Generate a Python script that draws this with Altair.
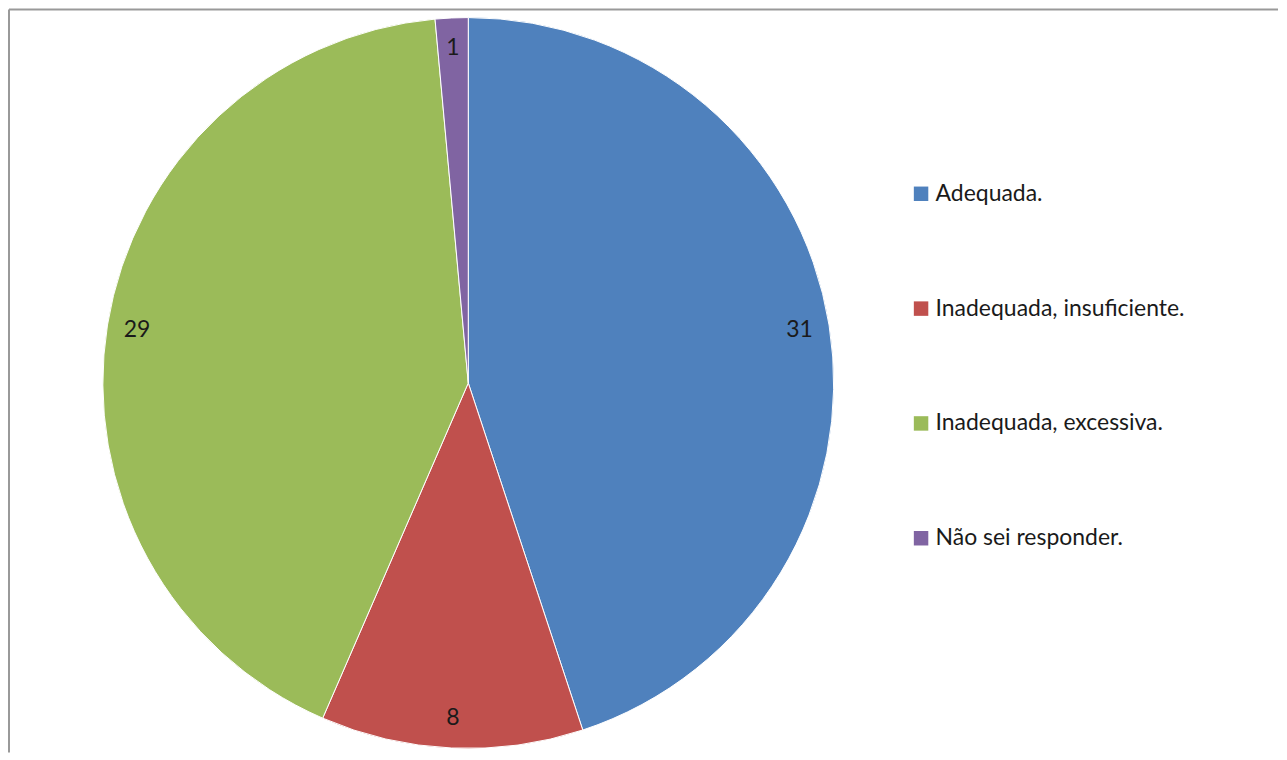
import altair as alt
import pandas as pd

categorias = ["Adequada.", "Inadequada, insuficiente.", "Inadequada, excessiva.", "Não sei responder."]
valores = [31, 8, 29, 1]
cores = ["#4F81BD", "#C0504D", "#9BBB59", "#8064A2"]
ordem = [0, 1, 2, 3]

df = pd.DataFrame({"categoria": categorias, "valor": valores, "ordem": ordem})
frame_df = pd.DataFrame({"k": [0]})

W, H = 1271, 744
cx, cy = 460, 374

base = alt.Chart(df).encode(
    theta=alt.Theta("valor:Q", stack=True),
    order=alt.Order("ordem:Q"),
)

pie = base.mark_arc(outerRadius=366, stroke="white", strokeWidth=1).encode(
    x=alt.value(cx),
    y=alt.value(cy),
    color=alt.Color(
        "categoria:N",
        scale=alt.Scale(domain=categorias, range=cores),
        sort=categorias,
        legend=alt.Legend(
            title=None,
            orient="none",
            legendX=902,
            legendY=173,
            symbolType="square",
            symbolSize=210,
            symbolStrokeWidth=0,
            labelFont="Lato",
            labelFontSize=23,
            labelColor="#1a1a1a",
            labelOffset=3,
            rowPadding=91,
            padding=0,
            labelLimit=400,
        ),
    ),
)

labels = base.mark_text(radius=336, font="Lato", fontSize=23, color="#1a1a1a").encode(
    x=alt.value(cx),
    y=alt.value(cy),
    text="valor:Q",
)

left_line = alt.Chart(frame_df).mark_rule(color="#999999", strokeWidth=2).encode(
    x=alt.value(0), y=alt.value(0), y2=alt.value(H)
)
top_line = alt.Chart(frame_df).mark_rule(color="#999999", strokeWidth=2).encode(
    x=alt.value(0), x2=alt.value(W), y=alt.value(0)
)

chart = alt.layer(pie, labels, left_line, top_line).properties(
    width=W, height=H, padding=0, background="white"
).configure_view(stroke=None)

chart.save("out.html", embed_options={"renderer": "svg", "actions": False})
